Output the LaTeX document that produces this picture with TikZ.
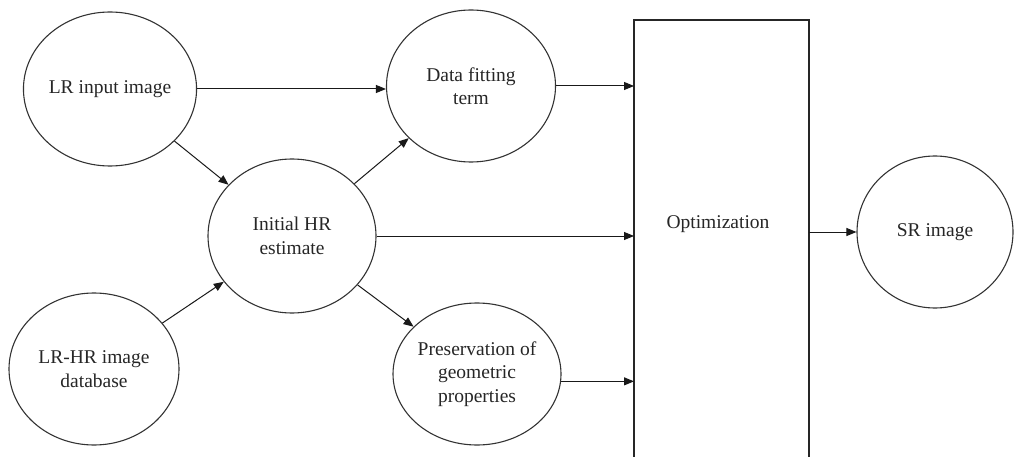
\documentclass[tikz,border=0pt]{standalone}
\usepackage{fontspec}
\setmainfont{Liberation Serif}
\usetikzlibrary{shapes.geometric,arrows.meta}
\begin{document}
\begin{tikzpicture}[x=1pt,y=-1pt,
  blob/.style={ellipse,draw=black!80,line width=1.1pt,inner sep=0pt,align=center,
    text=black!85,font=\fontsize{19.5}{23.5}\selectfont},
  link/.style={draw=black!90,line width=1pt,-{Triangle[length=10pt,width=8pt]}},
  frame/.style={draw=black!85,line width=1.1pt}]
\useasboundingbox (0,0) rectangle (1014,457);

% round stages
\node[blob,minimum width=168,minimum height=154] (lr)   at (110,89)  {LR input image};
\node[blob,minimum width=170,minimum height=152] (db)   at (94,369)  {LR-HR image\\database};
\node[blob,minimum width=168,minimum height=154] (ini)  at (292,236) {Initial HR\\estimate};
\node[blob,minimum width=169,minimum height=152] (df)   at (471,86)  {Data fitting\\term};
\node[blob,minimum width=168,minimum height=142] (pres) at (477,374) {Preservation of\\geometric\\properties};
\node[blob,minimum width=156,minimum height=152] (sr)   at (935,232) {SR image};

% optimization block, running past the lower edge
\draw[frame] (634,470) -- (634,20) -- (809,20) -- (809,470);
\coordinate (optL) at (634,0);
\coordinate (optR) at (809,0);
\node[text=black!85,font=\fontsize{19.5}{23.5}\selectfont] (opt) at (718,224) {Optimization};

% connectors
\draw[link] (lr.east) -- (lr.east -| df.west);
\draw[link] (lr) -- (ini);
\draw[link] (db) -- (ini);
\draw[link] (ini) -- (df);
\draw[link] (ini) -- (pres);
\draw[link] (df.east) -- (df.east -| optL);
\draw[link] (ini.east) -- (ini.east -| optL);
\draw[link] (pres.-5) -- (pres.-5 -| optL);
\draw[link] (optR |- sr.west) -- (sr.west);
\end{tikzpicture}
\end{document}
